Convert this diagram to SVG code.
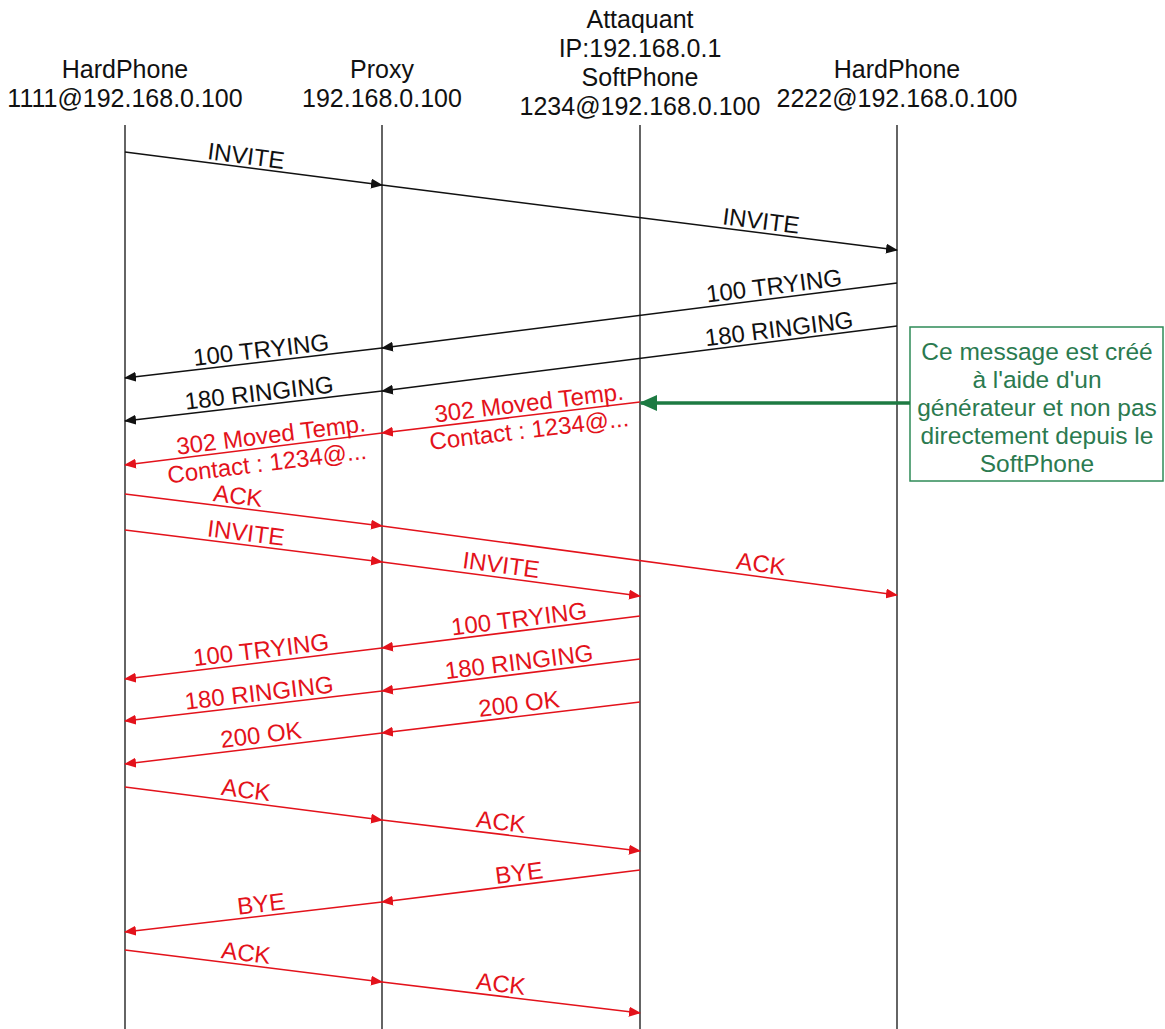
<svg xmlns="http://www.w3.org/2000/svg" width="1165" height="1029" viewBox="0 0 1165 1029">
<style>
text{font-family:"Liberation Sans",Arial,sans-serif}
.hd{font-size:25px;fill:#111;text-anchor:middle}
.lbl{font-size:24px;text-anchor:middle}
.k{fill:#111}
.r{fill:#e3121b}
.life{stroke:#111;stroke-width:1.3;fill:none}
.mk{stroke:#111;stroke-width:1.5;fill:none;marker-end:url(#ak)}
.mr{stroke:#e3121b;stroke-width:1.5;fill:none;marker-end:url(#ar)}
.note{font-size:24.5px;fill:#2b7a4f;text-anchor:middle}
</style>
<defs>
<marker id="ak" markerUnits="userSpaceOnUse" markerWidth="12" markerHeight="10" refX="11" refY="5" orient="auto"><path d="M0,0 L12,5 L0,10 z" fill="#111"/></marker>
<marker id="ar" markerUnits="userSpaceOnUse" markerWidth="12" markerHeight="10" refX="11" refY="5" orient="auto"><path d="M0,0 L12,5 L0,10 z" fill="#e3121b"/></marker>
<marker id="ag" markerUnits="userSpaceOnUse" markerWidth="18" markerHeight="16" refX="16" refY="8" orient="auto"><path d="M0,0 L18,8 L0,16 z" fill="#1d7a42"/></marker>
</defs>
<rect width="1165" height="1029" fill="#fff"/>
<g id="hp1"><text class="hd" x="125" y="78">HardPhone</text><text class="hd" x="125" y="107">1111@192.168.0.100</text><line class="life" x1="125" y1="125" x2="125" y2="1029"/></g>
<g id="proxy"><text class="hd" x="382" y="78">Proxy</text><text class="hd" x="382" y="107">192.168.0.100</text><line class="life" x1="382" y1="125" x2="382" y2="1029"/></g>
<g id="attaquant"><text class="hd" x="640" y="28">Attaquant</text><text class="hd" x="640" y="57">IP:192.168.0.1</text><text class="hd" x="640" y="86">SoftPhone</text><text class="hd" x="640" y="115">1234@192.168.0.100</text><line class="life" x1="640" y1="125" x2="640" y2="1029"/></g>
<g id="hp2"><text class="hd" x="897" y="78">HardPhone</text><text class="hd" x="897" y="107">2222@192.168.0.100</text><line class="life" x1="897" y1="125" x2="897" y2="1029"/></g>
<g id="note"><rect x="910" y="327" width="253" height="154" fill="#fff" stroke="#2e8b57" stroke-width="1.5"/>
<text class="note" x="1037" y="360">Ce message est créé</text>
<text class="note" x="1037" y="388">à l'aide d'un</text>
<text class="note" x="1037" y="416">générateur et non pas</text>
<text class="note" x="1037" y="444">directement depuis le</text>
<text class="note" x="1037" y="472">SoftPhone</text></g>
<g id="connectors">
<line class="mk" x1="125" y1="152" x2="382" y2="185"/>
<line class="mk" x1="382" y1="185" x2="897" y2="250"/>
<line class="mk" x1="897" y1="283" x2="382" y2="348"/>
<line class="mk" x1="897" y1="326" x2="382" y2="391"/>
<line class="mk" x1="382" y1="348" x2="125" y2="378"/>
<line class="mk" x1="382" y1="391" x2="125" y2="421"/>
<line class="mr" x1="640" y1="402" x2="382" y2="433"/>
<line class="mr" x1="382" y1="433" x2="125" y2="465"/>
<line class="mr" x1="125" y1="494" x2="382" y2="526"/>
<line class="mr" x1="125" y1="530" x2="382" y2="562"/>
<line class="mr" x1="382" y1="526" x2="897" y2="595"/>
<line class="mr" x1="382" y1="562" x2="640" y2="596"/>
<line class="mr" x1="640" y1="616" x2="382" y2="648"/>
<line class="mr" x1="640" y1="659" x2="382" y2="691"/>
<line class="mr" x1="640" y1="702" x2="382" y2="733"/>
<line class="mr" x1="382" y1="648" x2="125" y2="679"/>
<line class="mr" x1="382" y1="691" x2="125" y2="721"/>
<line class="mr" x1="382" y1="733" x2="125" y2="764"/>
<line class="mr" x1="125" y1="787" x2="382" y2="820"/>
<line class="mr" x1="382" y1="820" x2="640" y2="851"/>
<line class="mr" x1="640" y1="870" x2="382" y2="902"/>
<line class="mr" x1="382" y1="902" x2="125" y2="932"/>
<line class="mr" x1="125" y1="950" x2="382" y2="982"/>
<line class="mr" x1="382" y1="982" x2="640" y2="1013"/>
<line x1="910" y1="403" x2="641" y2="403" stroke="#1d7a42" stroke-width="3.5" marker-end="url(#ag)"/>
</g>
<g id="labels">
<text class="lbl k" transform="translate(245,164) rotate(7.3)">INVITE</text>
<text class="lbl k" transform="translate(760,229) rotate(7.2)">INVITE</text>
<text class="lbl k" transform="translate(775,294) rotate(-7.2)">100 TRYING</text>
<text class="lbl k" transform="translate(780,337) rotate(-7.2)">180 RINGING</text>
<text class="lbl k" transform="translate(262,358) rotate(-6.7)">100 TRYING</text>
<text class="lbl k" transform="translate(260,401) rotate(-6.7)">180 RINGING</text>
<text class="lbl r" transform="translate(530,411) rotate(-6.9)">302 Moved Temp.</text>
<text class="lbl r" transform="translate(530,438) rotate(-6.9)">Contact : 1234@...</text>
<text class="lbl r" transform="translate(272,443) rotate(-7.1)">302 Moved Temp.</text>
<text class="lbl r" transform="translate(268,471) rotate(-7.1)">Contact : 1234@...</text>
<text class="lbl r" transform="translate(237,504) rotate(7.1)">ACK</text>
<text class="lbl r" transform="translate(245,541) rotate(7.1)">INVITE</text>
<text class="lbl r" transform="translate(760,572) rotate(7.6)">ACK</text>
<text class="lbl r" transform="translate(500,573) rotate(7.5)">INVITE</text>
<text class="lbl r" transform="translate(520,627) rotate(-7.1)">100 TRYING</text>
<text class="lbl r" transform="translate(520,670) rotate(-7.1)">180 RINGING</text>
<text class="lbl r" transform="translate(520,712) rotate(-6.9)">200 OK</text>
<text class="lbl r" transform="translate(262,658) rotate(-6.9)">100 TRYING</text>
<text class="lbl r" transform="translate(260,701) rotate(-6.7)">180 RINGING</text>
<text class="lbl r" transform="translate(262,743) rotate(-6.9)">200 OK</text>
<text class="lbl r" transform="translate(245,798) rotate(7.3)">ACK</text>
<text class="lbl r" transform="translate(500,830) rotate(6.9)">ACK</text>
<text class="lbl r" transform="translate(520,881) rotate(-7.1)">BYE</text>
<text class="lbl r" transform="translate(262,912) rotate(-6.7)">BYE</text>
<text class="lbl r" transform="translate(245,961) rotate(7.1)">ACK</text>
<text class="lbl r" transform="translate(500,992) rotate(6.9)">ACK</text>
</g>
</svg>
